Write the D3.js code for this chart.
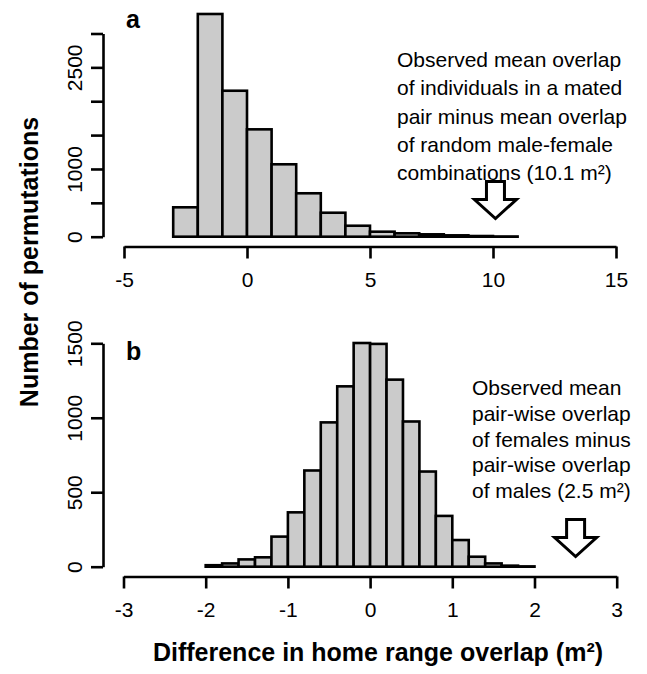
<!DOCTYPE html>
<html>
<head>
<meta charset="utf-8">
<script src="https://cdn.jsdelivr.net/npm/d3@7"></script>
<style>
  body { margin: 0; background: #fff; }
  svg { display: block; font-family: "Liberation Sans", Arial, sans-serif; }
</style>
</head>
<body>
<svg id="chart"></svg>
<script>
// panel a: mated pair minus random pairs, bins of width 1
const aEdges = [-3, -2, -1, 0, 1, 2, 3, 4, 5, 6, 7, 8, 9, 10, 11];
const aCounts = [434, 3288, 2155, 1585, 1069, 641, 354, 162, 74, 50, 35, 20, 10, 3];
const aXTicks = [-5, 0, 5, 10, 15];
const aYTicks = [0, 500, 1000, 1500, 2000, 2500, 3000];
const aYLabels = [0, 1000, 2500];
const aObserved = 10.1;
const aNote = ['Observed mean overlap', 'of individuals in a mated', 'pair minus mean overlap',
  'of random male-female', 'combinations (10.1 m\u00B2)'];

// panel b: females minus males, bins of width 0.2
const bEdges = [-2, -1.8, -1.6, -1.4, -1.2, -1, -0.8, -0.6, -0.4, -0.2, 0,
  0.2, 0.4, 0.6, 0.8, 1, 1.2, 1.4, 1.6, 1.8, 2];
const bCounts = [10, 22, 49, 63, 202, 365, 646, 969, 1211, 1502, 1496, 1256, 975, 639, 341, 179, 67, 22, 7, 2];
const bXTicks = [-3, -2, -1, 0, 1, 2, 3];
const bYTicks = [0, 500, 1000, 1500];
const bYLabels = [0, 500, 1000, 1500];
const bObserved = 2.5;
const bNote = ['Observed mean', 'pair-wise overlap', 'of females minus',
  'pair-wise overlap', 'of males (2.5 m\u00B2)'];

const width = 647, height = 674;
const svg = d3.select('#chart').attr('width', width).attr('height', height);

const lw = 2.6;
const fs = 21;

function panel(o) {
  const x = d3.scaleLinear().domain(d3.extent(o.xTicks)).range([o.left, o.right]);
  const y = d3.scaleLinear().domain(d3.extent(o.yTicks)).range([o.base, o.top]);
  const bins = o.counts.map((c, i) => ({ x0: o.edges[i], x1: o.edges[i + 1], n: c }));

  const g = svg.append('g');

  g.append('g')
    .selectAll('rect')
    .data(bins)
    .join('rect')
    .attr('x', d => x(d.x0))
    .attr('width', d => x(d.x1) - x(d.x0))
    .attr('y', d => y(d.n))
    .attr('height', d => y(0) - y(d.n))
    .attr('fill', '#cbcbcb')
    .attr('stroke', '#000')
    .attr('stroke-width', lw);

  // R style axes: line spans first to last tick, ticks outward
  const xa = g.append('g')
    .attr('transform', `translate(0,${o.xAxisY})`)
    .call(d3.axisBottom(x).tickValues(o.xTicks).tickSize(12).tickSizeOuter(0).tickPadding(14)
      .tickFormat(d3.format('d')));
  xa.attr('font-size', fs).attr('font-family', null);
  xa.selectAll('path, line').attr('stroke-width', lw);
  xa.selectAll('text').text(d => String(d));

  const ya = g.append('g')
    .attr('transform', `translate(${o.yAxisX},0)`)
    .call(d3.axisLeft(y).tickValues(o.yTicks).tickSize(12).tickSizeOuter(0)
      .tickFormat(d => o.yLabels.includes(d) ? d : ''));
  ya.attr('font-size', fs).attr('font-family', null);
  ya.selectAll('path, line').attr('stroke-width', lw);
  ya.selectAll('text')
    .attr('transform', 'rotate(-90)')
    .attr('x', 0)
    .attr('y', -21)
    .attr('dy', 0)
    .attr('text-anchor', 'middle');

  g.append('text')
    .attr('x', 126)
    .attr('y', o.letterY)
    .attr('font-size', 25)
    .attr('font-weight', 'bold')
    .text(o.letter);

  // hollow arrow pointing at the observed value
  const cx = x(o.observed), tip = o.xAxisY - o.arrowGap;
  const sh = 9, hw = 21, hl = 19, len = 37;
  g.append('path')
    .attr('d', d3.line()([
      [cx - sh, tip - len], [cx + sh, tip - len], [cx + sh, tip - hl], [cx + hw, tip - hl],
      [cx, tip], [cx - hw, tip - hl], [cx - sh, tip - hl]
    ]) + 'Z')
    .attr('fill', '#fff')
    .attr('stroke', '#000')
    .attr('stroke-width', 3)
    .attr('stroke-linejoin', 'miter');

  g.append('text')
    .attr('font-size', fs)
    .selectAll('tspan')
    .data(o.note)
    .join('tspan')
    .attr('x', o.noteX)
    .attr('y', (d, i) => o.noteY + i * o.noteStep)
    .text(d => d);
}

panel({
  edges: aEdges, counts: aCounts, xTicks: aXTicks, yTicks: aYTicks, yLabels: aYLabels,
  observed: aObserved, note: aNote, letter: 'a', letterY: 28,
  left: 124, right: 616, base: 236.7, top: 33.5, xAxisY: 246.5, yAxisX: 103,
  arrowGap: 28, noteX: 397, noteY: 67, noteStep: 28.3
});

panel({
  edges: bEdges, counts: bCounts, xTicks: bXTicks, yTicks: bYTicks, yLabels: bYLabels,
  observed: bObserved, note: bNote, letter: 'b', letterY: 360,
  left: 123.5, right: 616.7, base: 566.7, top: 343.3, xAxisY: 576.5, yAxisX: 103,
  arrowGap: 20, noteX: 472, noteY: 395, noteStep: 25.8
});

svg.append('text')
  .attr('transform', 'translate(38,262) rotate(-90)')
  .attr('text-anchor', 'middle')
  .attr('font-size', 25)
  .attr('font-weight', 'bold')
  .text('Number of permutations');

svg.append('text')
  .attr('x', 378)
  .attr('y', 661)
  .attr('text-anchor', 'middle')
  .attr('font-size', 25)
  .attr('font-weight', 'bold')
  .text('Difference in home range overlap (m\u00B2)');
</script>
</body>
</html>
